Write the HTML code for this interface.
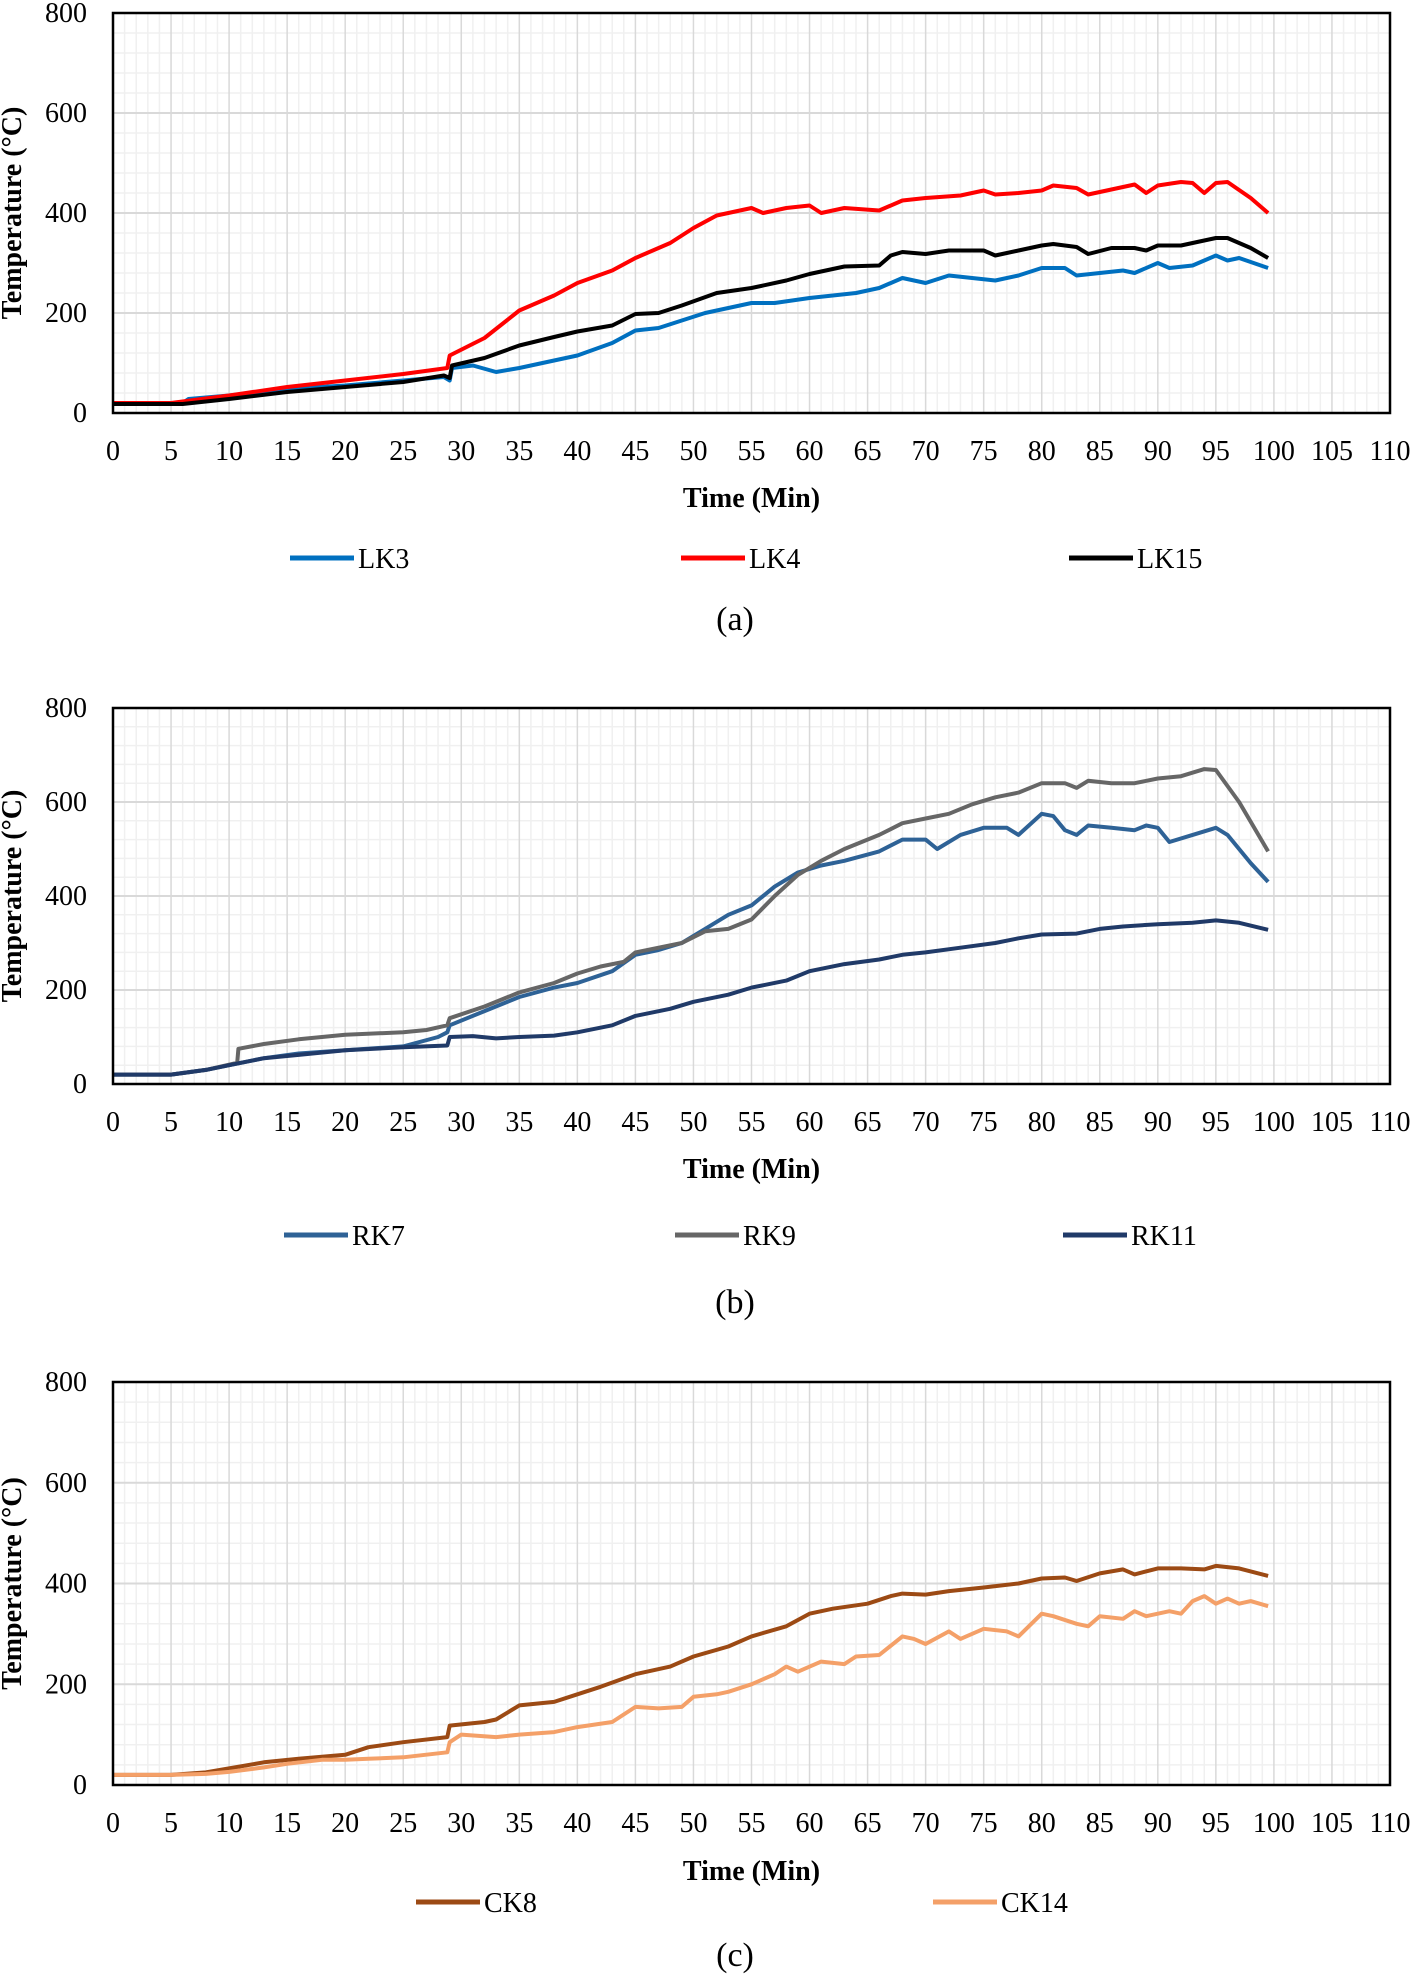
<!DOCTYPE html>
<html><head><meta charset="utf-8"><style>
html,body{margin:0;padding:0;background:#fff;}
svg{display:block;font-family:"Liberation Serif",serif;}
</style></head><body>
<svg id="fig" width="1412" height="1977" viewBox="0 0 1412 1977" xmlns="http://www.w3.org/2000/svg"></svg>
<script>
// ---- data ----
const xTicks = [0,5,10,15,20,25,30,35,40,45,50,55,60,65,70,75,80,85,90,95,100,105,110];
const yTicks = [0,200,400,600,800];
// panel a
const lk3T = [0,6,6.5,10,15,20,25,28.5,29,29.2,31,33,35,38,40,43,45,47,49,51,53,55,57,60,62,64,66,68,70,72,74,76,78,80,82,83,85,87,88,90,91,93,95,96,97,99.5];
const lk3V = [20,20,28,35,48,55,65,72,65,90,95,82,90,105,115,140,165,170,185,200,210,220,220,230,235,240,250,270,260,275,270,265,275,290,290,275,280,285,280,300,290,295,315,305,310,290];
const lk4T = [0,5,10,15,20,25,28.8,29,32,35,38,40,43,45,48,50,52,55,56,58,60,61,63,66,68,70,73,75,76,78,80,81,83,84,86,88,89,90,92,93,94,95,96,98,99.5];
const lk4V = [20,20,35,52,65,78,90,115,150,205,235,260,285,310,340,370,395,410,400,410,415,400,410,405,425,430,435,445,437,440,445,455,450,437,447,457,440,455,462,460,440,460,462,430,400];
const lk15T = [0,6,10,15,20,25,28.5,29,29.2,32,35,38,40,43,45,47,49,52,55,58,60,63,66,67,68,70,72,75,76,78,80,81,83,84,86,88,89,90,92,93,95,96,98,99.5];
const lk15V = [18,18,28,42,52,62,75,70,95,110,135,152,163,175,198,200,215,240,250,265,278,293,295,315,322,318,325,325,315,325,335,338,332,318,330,330,325,335,335,340,350,350,330,310];
// panel b
const rk7T = [0,5,8,10,13,16,20,25,28,28.8,29,32,35,38,40,43,45,47,49,51,53,55,57,59,61,63,66,68,70,71,73,75,77,78,80,81,82,83,84,86,88,89,90,91,93,95,96,98,99.5];
const rk7V = [20,20,30,40,55,65,72,80,100,110,125,155,185,205,215,240,275,285,300,330,360,380,420,450,465,475,495,520,520,500,530,545,545,530,575,570,540,530,550,545,540,550,545,515,530,545,530,470,430];
const rk9T = [0,5,8,10.7,10.8,13,16,20,25,27,28.8,29,32,35,38,40,42,44,45,47,49,51,53,55,57,59,61,63,66,68,70,72,74,76,78,80,82,83,84,86,88,90,92,94,95,97,99.5];
const rk9V = [20,20,30,45,75,85,95,105,110,115,125,140,165,195,215,235,250,260,280,290,300,325,330,350,400,445,475,500,530,555,565,575,595,610,620,640,640,630,645,640,640,650,655,670,668,600,495];
const rk11T = [0,5,8,10,13,16,20,25,28.8,29,31,33,35,38,40,43,45,48,50,53,55,58,60,63,66,68,70,73,76,78,80,83,85,87,90,93,95,97,99.5];
const rk11V = [20,20,30,40,55,62,72,78,82,100,102,97,100,103,110,125,145,160,175,190,205,220,240,255,265,275,280,290,300,310,318,320,330,335,340,343,348,343,328];
// panel c
const ck8T = [0,5,8,10,13,16,19,20,22,25,28.8,29,32,33,35,38,40,42,45,48,50,53,55,58,60,62,65,67,68,70,72,75,78,80,82,83,85,87,88,90,92,94,95,97,99.5];
const ck8V = [20,20,25,33,45,52,58,60,75,85,95,118,125,130,158,165,180,195,220,235,255,275,295,315,340,350,360,375,380,378,385,392,400,410,412,405,420,428,418,430,430,428,435,430,415];
const ck14T = [0,5,8,10,13,15,18,20,22,25,28.8,29,30,33,35,38,40,43,45,47,49,50,52,53,55,57,58,59,61,63,64,66,68,69,70,72,73,75,77,78,80,81,83,84,85,87,88,89,91,92,93,94,95,96,97,98,99.5];
const ck14V = [20,20,22,26,35,42,50,50,52,55,65,85,100,95,100,105,115,125,155,152,155,175,180,185,200,220,235,225,245,240,255,258,295,290,280,305,290,310,305,295,340,335,320,315,335,330,345,335,345,340,365,375,360,370,360,365,355];

const NS = "http://www.w3.org/2000/svg";
const fig = document.getElementById('fig');
function mk(tag, attrs, parent){const e=document.createElementNS(NS,tag);for(const k in attrs)e.setAttribute(k,attrs[k]);(parent||fig).appendChild(e);return e;}

const L=113, R=1390;
function panel(p){
  const top=p.top, bot=p.bot;
  const xs=v=>L+(v/110)*(R-L);
  const ys=v=>bot-(v/800)*(bot-top);
  const g=mk('g',{});
  
  
  // minor grid
  for(let m=1;m<110;m++){ if(m%5===0) continue;
    const ln=mk('line',{x1:xs(m),x2:xs(m),y1:top,y2:bot,stroke:'#f0f0f0','stroke-width':1.5},g);
    
    
  }
  for(let v=40;v<800;v+=40){ if(v%200===0) continue;
    const ln=mk('line',{x1:L,x2:R,y1:ys(v),y2:ys(v),stroke:'#f0f0f0','stroke-width':1.5},g);
    
    
  }
  xTicks.forEach(t=>{
    const ln=mk('line',{x1:xs(t),x2:xs(t),y1:top,y2:bot,stroke:'#d9d9d9','stroke-width':1.5},g);
    
    
    const tx=mk('text',{x:xs(t),y:bot+47,'text-anchor':'middle','font-size':28,fill:'#000'},g);
    tx.textContent=t;
    
    
  });
  yTicks.forEach(t=>{
    const ln=mk('line',{x1:L,x2:R,y1:ys(t),y2:ys(t),stroke:'#d9d9d9','stroke-width':2},g);
    
    
    const tx=mk('text',{x:87,y:ys(t)+9,'text-anchor':'end','font-size':28,fill:'#000'},g);
    tx.textContent=t;
    
    
  });
  p.series.forEach(s=>{
    const d=s.t.map((t,i)=>(i?'L':'M')+xs(t).toFixed(1)+','+ys(s.v[i]).toFixed(1)).join(' ');
    const path=mk('path',{d:d,fill:'none',stroke:s.color,'stroke-width':4,'stroke-linejoin':'round'},g);
    
    
    const ll=mk('line',{x1:s.lx,x2:s.lx+64,y1:p.leg,y2:p.leg,stroke:s.color,'stroke-width':5},g);
    
    
    const lt=mk('text',{x:s.lx+68,y:p.leg+10,'font-size':28,fill:'#000'},g);
    lt.textContent=s.name;
    
    
  });
  const fr=mk('rect',{x:L,y:top,width:R-L,height:bot-top,fill:'none',stroke:'#000','stroke-width':2.5},g);
  
  
  const xt=mk('text',{x:(L+R)/2,y:p.xt,'text-anchor':'middle','font-size':28,'font-weight':'bold'},g);
  xt.textContent='Time (Min)';
  
  
  const yt=mk('text',{x:0,y:0,'text-anchor':'middle','font-size':28,'font-weight':'bold',transform:'translate(21,'+((top+bot)/2)+') rotate(-90)'},g);
  yt.textContent='Temperature (°C)';
  
  
  const cap=mk('text',{x:735,y:p.cap,'text-anchor':'middle','font-size':34},g);
  cap.textContent='('+p.id+')';
  
  
}
panel({id:'a',top:13,bot:413,xt:507,leg:558,cap:630,series:[
  {name:'LK3',t:lk3T,v:lk3V,color:'#0070C0',lx:290},
  {name:'LK4',t:lk4T,v:lk4V,color:'#FF0000',lx:681},
  {name:'LK15',t:lk15T,v:lk15V,color:'#000000',lx:1069}]});
panel({id:'b',top:708,bot:1084,xt:1178,leg:1235,cap:1313,series:[
  {name:'RK7',t:rk7T,v:rk7V,color:'#2E6296',lx:284},
  {name:'RK9',t:rk9T,v:rk9V,color:'#666666',lx:675},
  {name:'RK11',t:rk11T,v:rk11V,color:'#203A68',lx:1063}]});
panel({id:'c',top:1382,bot:1785,xt:1880,leg:1902,cap:1966,series:[
  {name:'CK8',t:ck8T,v:ck8V,color:'#9C4A14',lx:416},
  {name:'CK14',t:ck14T,v:ck14V,color:'#F4A068',lx:933}]});
</script>
</body></html>
